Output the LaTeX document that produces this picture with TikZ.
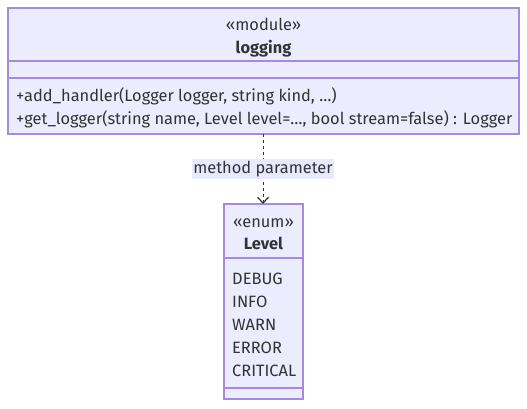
\documentclass[tikz,border=0pt]{standalone}
\usepackage{fontspec}
\setmainfont{Fira Sans}
\usetikzlibrary{arrows.meta}
\definecolor{boxfill}{HTML}{ECECFF}
\definecolor{boxline}{HTML}{A58BE0}
\definecolor{txt}{HTML}{333333}
\definecolor{lblbg}{HTML}{E8E8FF}
\tikzset{
  x=1pt,y=-1pt,
  classbox/.style={draw=boxline,fill=boxfill,line width=1.3pt},
  divider/.style={draw=boxline,line width=1.3pt},
  txtnode/.style={text=txt,font=\fontsize{16.4}{19}\selectfont,inner sep=0pt,anchor=base},
  lefttxt/.style={text=txt,font=\fontsize{16.4}{19}\selectfont,inner sep=0pt,anchor=base west},
  rel/.style={draw=txt,line width=1pt,dashed,dash pattern=on 3pt off 3pt,-{Straight Barb[length=6pt,width=11pt,line width=1.2pt]}},
  lbl/.style={fill=lblbg,text=txt,font=\fontsize{16.4}{19}\selectfont,inner xsep=1pt,inner ysep=2pt}
}
\begin{document}
\begin{tikzpicture}
\useasboundingbox (0,0) rectangle (527,408);
% module box
\path[classbox] (8,8) rectangle (519,134);
\draw[divider] (8,61) -- (519,61);
\draw[divider] (8,78) -- (519,78);
\node[txtnode] (mst) at (263.5,30) {«module»};
\node[txtnode,font=\fontsize{16.4}{19}\selectfont\bfseries] (mname) at (263.5,53) {logging};
\node[lefttxt] (m1) at (16,101) {+add\_handler(Logger logger, string kind, …)};
\node[lefttxt] (m2) at (16,124) {+get\_logger(string name, Level level=…, bool stream=false) : Logger};
\coordinate (mod) at (263,134);
% enum box
\path[classbox] (224,204) rectangle (303,399);
\draw[divider] (224,258) -- (303,258);
\draw[divider] (224,388) -- (303,388);
\node[txtnode] (est) at (263.5,227) {«enum»};
\node[txtnode,font=\fontsize{16.4}{19}\selectfont\bfseries] (ename) at (263.5,249) {Level};
\node[lefttxt] (e1) at (232,284) {DEBUG};
\node[lefttxt] (e2) at (232,307) {INFO};
\node[lefttxt] (e3) at (232,330) {WARN};
\node[lefttxt] (e4) at (232,353) {ERROR};
\node[lefttxt] (e5) at (232,376) {CRITICAL};
\coordinate (enm) at (263,204);
% relation
\draw[rel] (mod) -- (enm);
\node[lbl] (lab) at (263,169) {method parameter};
\end{tikzpicture}
\end{document}
